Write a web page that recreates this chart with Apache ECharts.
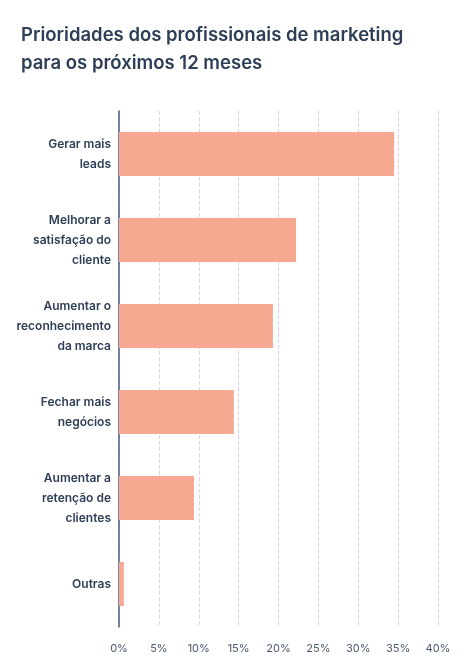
<!DOCTYPE html>
<html><head><meta charset="utf-8">
<script src="https://cdn.jsdelivr.net/npm/echarts@6/dist/echarts.min.js"></script>
<style>html,body{margin:0;padding:0;background:#fff}#c{width:474px;height:665px}</style>
</head><body><div id="c"></div>
<script>
const categories = ["Gerar mais\nleads","Melhorar a\nsatisfação do\ncliente","Aumentar o\nreconhecimento\nda marca","Fechar mais\nnegócios","Aumentar a\nretenção de\nclientes","Outras"];
const values = [34.5, 22.2, 19.3, 14.4, 9.4, 0.6];
const chart = echarts.init(document.getElementById('c'));
chart.setOption({
  animation:false,
  title:{text:"Prioridades dos profissionais de marketing\npara os próximos 12 meses",left:16,top:16,
    textStyle:{fontFamily:"Inter",fontSize:18.5,fontWeight:600,color:"#2d3e56",lineHeight:28}},
  grid:{left:119,right:36,top:111,bottom:38},
  xAxis:{type:'value',min:0,max:40,interval:5,
    axisLabel:{formatter:'{value}%',color:'#4a5a6e',fontFamily:'Inter',fontSize:11,margin:16},
    splitLine:{lineStyle:{type:'dashed',color:'#d4d8de'}},
    axisLine:{show:false},axisTick:{show:false}},
  yAxis:{type:'category',inverse:true,data:categories,
    axisLine:{lineStyle:{color:'#4a5f7e',width:1.5}},axisTick:{show:false},
    axisLabel:{color:'#2d3e56',fontFamily:'Inter',fontWeight:600,fontSize:12,lineHeight:20,align:'right',margin:8}},
  series:[{type:'bar',data:values,barWidth:44,itemStyle:{color:'#f6a891'}}]
});
</script></body></html>
